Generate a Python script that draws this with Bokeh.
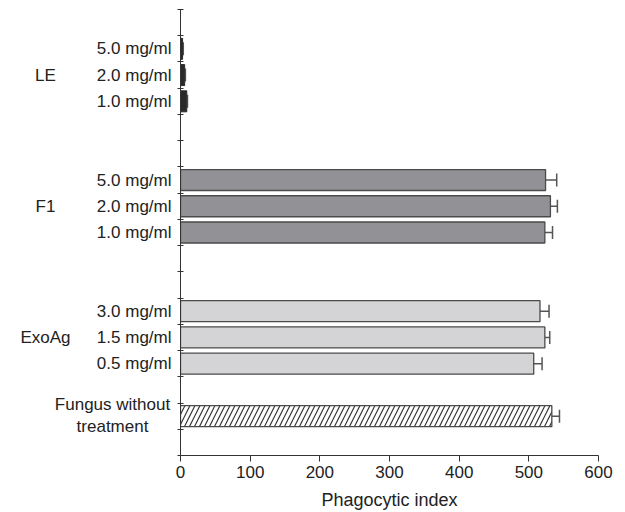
from bokeh.plotting import figure
from bokeh.layouts import row
from bokeh.models import (ColumnDataSource, Range1d, FixedTicker, Whisker, TeeHead)
from bokeh.core.properties import value
from bokeh.embed import file_html
from bokeh.resources import INLINE

# ---- data ----
groups = ["LE", "F1", "ExoAg"]
group_pos = [14.5, 9.5, 4.5]
conc_labels = ["5.0 mg/ml", "2.0 mg/ml", "1.0 mg/ml",
               "5.0 mg/ml", "2.0 mg/ml", "1.0 mg/ml",
               "3.0 mg/ml", "1.5 mg/ml", "0.5 mg/ml"]
positions = [15.5, 14.5, 13.5, 10.5, 9.5, 8.5, 5.5, 4.5, 3.5]
le_values = [3, 6, 9]
le_err = [1, 1, 1]
f1_values = [524, 531, 523]
f1_err = [16, 10, 11]
exo_values = [516, 523, 507]
exo_err = [13, 7, 12]
control_label = ["Fungus without", "treatment"]
control_label_pos = [1.95, 1.11]
control_value = [533]
control_err = [11]
control_pos = [1.5]
x_ticks = [0, 100, 200, 300, 400, 500, 600]
y_slot_ticks = list(range(0, 18))

FONT = "Liberation Sans"
TXT = "#222222"
EDGE = "#4a4a4a"
TOP, FH, BOT = 9, 446, 54
LAB_W = 174

y_range = Range1d(0, 17)

# ---- main chart ----
p = figure(frame_width=418, frame_height=FH, output_backend="svg", toolbar_location=None,
           x_range=Range1d(0, 600), y_range=y_range,
           min_border_left=6, min_border_right=18, min_border_top=TOP, min_border_bottom=BOT)
p.outline_line_color = None
p.xgrid.grid_line_color = None
p.ygrid.grid_line_color = None

def src(ys, vals, errs):
    return ColumnDataSource(dict(y=ys, v=vals, lo=vals, hi=[a + b for a, b in zip(vals, errs)]))

le_src = src(positions[0:3], le_values, le_err)
f1_src = src(positions[3:6], f1_values, f1_err)
exo_src = src(positions[6:9], exo_values, exo_err)
ctl_src = src(control_pos, control_value, control_err)

p.hbar(y="y", right="v", left=0, height=0.8, source=le_src,
       fill_color="#2a2a2a", line_color="#2a2a2a", line_width=1)
p.hbar(y="y", right="v", left=0, height=0.8, source=f1_src,
       fill_color="#929296", line_color=EDGE, line_width=1.3)
p.hbar(y="y", right="v", left=0, height=0.8, source=exo_src,
       fill_color="#d4d4d6", line_color=EDGE, line_width=1.3)
p.hbar(y="y", right="v", left=0, height=0.8, source=ctl_src,
       fill_color="white", line_color=EDGE, line_width=1.3,
       hatch_pattern="/", hatch_color="#333333", hatch_scale=10, hatch_weight=1.2)

for s in (f1_src, exo_src, ctl_src, le_src):
    p.add_layout(Whisker(source=s, base="y", lower="lo", upper="hi", dimension="width",
                         line_color="#555555", line_width=1.5, lower_head=None,
                         upper_head=TeeHead(size=13, line_color="#555555", line_width=1.5)))

# x axis
p.xaxis.ticker = FixedTicker(ticks=x_ticks)
p.xaxis.minor_tick_line_color = None
p.xaxis.major_tick_in = 0
p.xaxis.major_tick_out = 6
p.xaxis.axis_line_color = "#333333"
p.xaxis.major_tick_line_color = "#333333"
p.xaxis.major_label_text_font = FONT
p.xaxis.major_label_text_font_size = "17px"
p.xaxis.major_label_text_color = TXT
p.xaxis.major_label_standoff = 4
p.xaxis.axis_label = "Phagocytic index"
p.xaxis.axis_label_text_font = FONT
p.xaxis.axis_label_text_font_size = "18px"
p.xaxis.axis_label_text_font_style = "normal"
p.xaxis.axis_label_text_color = TXT
p.xaxis.axis_label_standoff = 9

# y axis: slot ticks only
p.yaxis.ticker = FixedTicker(ticks=y_slot_ticks)
p.yaxis.major_label_overrides = {t: "" for t in y_slot_ticks}
p.yaxis.major_label_standoff = 0
p.yaxis.major_tick_in = 3
p.yaxis.major_tick_out = 3
p.yaxis.minor_tick_line_color = None
p.yaxis.major_tick_line_color = "#333333"
p.yaxis.axis_line_color = "#333333"

# ---- label panel (category labels of the y axis) ----
lab = figure(frame_width=LAB_W, frame_height=FH, output_backend="svg", toolbar_location=None,
             x_range=Range1d(0, LAB_W), y_range=y_range, x_axis_type=None, y_axis_type=None,
             min_border_left=0, min_border_right=0, min_border_top=TOP, min_border_bottom=BOT)
lab.outline_line_color = None
lab.xgrid.grid_line_color = None
lab.ygrid.grid_line_color = None

txt_kw = dict(text_font=value(FONT), text_font_size="17px", text_color=TXT, text_baseline="middle")
lab.text(x=[171] * len(positions), y=positions, text=conc_labels, text_align="right", **txt_kw)
lab.text(x=[45] * len(groups), y=group_pos, text=groups, text_align="center", **txt_kw)
lab.text(x=[112] * len(control_label), y=control_label_pos, text=control_label,
         text_align="center", **txt_kw)

layout = row(lab, p, spacing=0)
open("out.html", "w").write(file_html(layout, INLINE))
